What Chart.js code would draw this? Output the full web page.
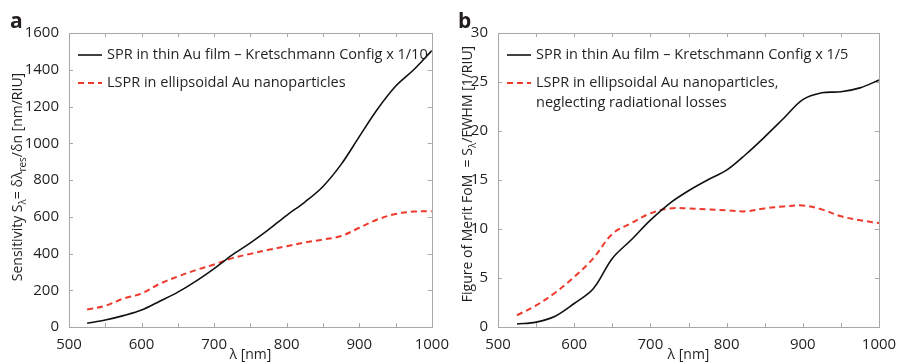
<!DOCTYPE html>
<html>
<head>
<meta charset="utf-8">
<script src="https://cdn.jsdelivr.net/npm/chart.js@4.4.0/dist/chart.umd.min.js"></script>
<style>
  body { margin: 0; background: #fff; width: 898px; height: 363px; overflow: hidden; position: relative; }
  .panel { position: absolute; top: 0; height: 363px; }
  #pa { left: 0; width: 450px; }
  #pb { left: 450px; width: 448px; }
</style>
</head>
<body>
<div class="panel" id="pa"><canvas id="chartA"></canvas></div>
<div class="panel" id="pb"><canvas id="chartB"></canvas></div>
<script>
// wavelength grid [nm], shared by both panels
const wavelengths = [525, 550, 575, 600, 625, 650, 675, 700, 725, 750, 775, 800, 825, 850, 875, 900, 925, 950, 975, 1000];

// panel a: sensitivity [nm/RIU]
const sprSensitivity  = [20, 38, 62, 92, 140, 190, 250, 318, 392, 458, 530, 608, 680, 765, 885, 1036, 1185, 1310, 1400, 1504];
const lsprSensitivity = [95, 115, 155, 182, 235, 275, 310, 340, 375, 398, 420, 440, 460, 476, 495, 540, 585, 615, 628, 630];

// panel b: figure of merit [1/RIU]
const sprFom  = [0.3, 0.5, 1.1, 2.4, 3.9, 7.0, 8.9, 10.9, 12.6, 13.9, 15.0, 16.0, 17.6, 19.4, 21.3, 23.2, 23.9, 24.0, 24.4, 25.2];
const lsprFom = [1.2, 2.2, 3.5, 5.1, 7.0, 9.5, 10.6, 11.6, 12.1, 12.1, 12.0, 11.9, 11.8, 12.1, 12.3, 12.4, 12.0, 11.3, 10.9, 10.6];

const xTicks = [500, 600, 700, 800, 900, 1000];
const yTicksA = [0, 200, 400, 600, 800, 1000, 1200, 1400, 1600];
const yTicksB = [0, 5, 10, 15, 20, 25, 30];

const FONT = '"Open Sans", "DejaVu Sans", sans-serif';
const TEXT = '#231f20';
const FRAME = '#a8a8a8';

// frame, inward ticks, rotated y title with subscripts, legend, panel letter
function decorPlugin(opt) {
  return {
    id: 'decor',
    afterDatasetsDraw(chart) {
      const ctx = chart.ctx;
      const a = chart.chartArea;
      const xs = chart.scales.x, ys = chart.scales.y;
      ctx.save();
      ctx.strokeStyle = FRAME;
      ctx.lineWidth = 1;
      ctx.strokeRect(Math.round(a.left) + 0.5, Math.round(a.top) + 0.5, Math.round(a.right - a.left), Math.round(a.bottom - a.top));
      ctx.beginPath();
      for (let v = 500; v <= 1000; v += 50) {
        const px = Math.round(xs.getPixelForValue(v)) + 0.5;
        ctx.moveTo(px, a.bottom); ctx.lineTo(px, a.bottom - 4);
        ctx.moveTo(px, a.top); ctx.lineTo(px, a.top + 4);
      }
      opt.yTicks.forEach(v => {
        const py = Math.round(ys.getPixelForValue(v)) + 0.5;
        ctx.moveTo(a.left, py); ctx.lineTo(a.left + 4, py);
        ctx.moveTo(a.right, py); ctx.lineTo(a.right - 4, py);
      });
      ctx.stroke();

      // y title
      ctx.fillStyle = TEXT;
      ctx.textBaseline = 'middle';
      const main = '14px ' + FONT, sub = '10px ' + FONT;
      let total = 0;
      opt.yTitle.forEach(s => { ctx.font = s.sub ? sub : main; total += ctx.measureText(s.t).width; });
      ctx.translate(opt.titleX, opt.titleY);
      ctx.rotate(-Math.PI / 2);
      let cx = -total / 2;
      opt.yTitle.forEach(s => {
        ctx.font = s.sub ? sub : main;
        ctx.fillText(s.t, cx, s.sub ? 5 : 0);
        cx += ctx.measureText(s.t).width;
      });
      ctx.setTransform(1, 0, 0, 1, 0, 0);

      // legend
      ctx.font = '14.5px ' + FONT;
      ctx.textAlign = 'left';
      opt.legend.forEach(item => {
        ctx.strokeStyle = item.color;
        ctx.lineWidth = item.width;
        ctx.setLineDash(item.dash);
        ctx.beginPath();
        ctx.moveTo(opt.legX, item.y);
        ctx.lineTo(opt.legX + 24, item.y);
        ctx.stroke();
        ctx.setLineDash([]);
        item.lines.forEach((t, i) => ctx.fillText(t, opt.legX + 29, item.y + i * 20));
      });

      // panel letter
      ctx.font = 'bold 21px ' + FONT;
      ctx.fillText(opt.letter, opt.letterX, 22);
      ctx.restore();
    }
  };
}

function makeChart(id, spr, lspr, opt) {
  new Chart(document.getElementById(id), {
    type: 'line',
    data: {
      datasets: [
        { label: 'SPR', data: spr, borderColor: '#111', borderWidth: 1.6, pointRadius: 0, tension: 0.35 },
        { label: 'LSPR', data: lspr, borderColor: '#ee3a2c', borderWidth: 2, borderDash: [6, 4], pointRadius: 0, tension: 0.35 }
      ].map(d => Object.assign(d, { data: d.data.map((v, i) => ({ x: wavelengths[i], y: v })) }))
    },
    options: {
      responsive: false,
      animation: false,
      layout: { padding: { top: 33, right: opt.padRight, left: 0, bottom: 0 } },
      plugins: { legend: { display: false }, tooltip: { enabled: false } },
      scales: {
        x: {
          type: 'linear', min: 500, max: 1000,
          afterBuildTicks: s => { s.ticks = xTicks.map(v => ({ value: v })); },
          afterFit: s => { s.height = 36; },
          ticks: { color: TEXT, font: { family: FONT, size: 15 }, padding: 1, maxRotation: 0, autoSkip: false, callback: v => String(v) },
          grid: { display: false }, border: { display: false },
          title: { display: true, text: 'λ [nm]', color: TEXT, font: { family: FONT, size: 14 }, padding: 0 }
        },
        y: {
          min: 0, max: opt.yMax,
          afterBuildTicks: s => { s.ticks = opt.yTicks.map(v => ({ value: v })); },
          afterFit: s => { s.width = opt.yWidth; },
          ticks: { color: TEXT, font: { family: FONT, size: 15 }, padding: 2, callback: v => String(v) },
          grid: { display: false }, border: { display: false }
        }
      }
    },
    plugins: [decorPlugin(opt)]
  });
}

const cA = document.getElementById('chartA'); cA.width = 450; cA.height = 363;
const cB = document.getElementById('chartB'); cB.width = 448; cB.height = 363;

makeChart('chartA', sprSensitivity, lsprSensitivity, {
  yMax: 1600, yTicks: yTicksA, yWidth: 69, padRight: 13,
  titleX: 18, titleY: 177, letter: 'a', letterX: 10, legX: 78,
  yTitle: [{ t: 'Sensitivity S' }, { t: 'λ', sub: true }, { t: '= δλ' }, { t: 'res', sub: true }, { t: '/δn [nm/RIU]' }],
  legend: [
    { color: '#111', width: 1.6, dash: [], y: 55, lines: ['SPR in thin Au film – Kretschmann Config x 1/10'] },
    { color: '#ee3a2c', width: 2, dash: [6, 4], y: 83, lines: ['LSPR in ellipsoidal Au nanoparticles'] }
  ]
});

makeChart('chartB', sprFom, lsprFom, {
  yMax: 30, yTicks: yTicksB, yWidth: 48, padRight: 19,
  titleX: 18, titleY: 174, letter: 'b', letterX: 8, legX: 57,
  yTitle: [{ t: 'Figure of Merit FoM  = S' }, { t: 'λ', sub: true }, { t: '/FWHM [1/RIU]' }],
  legend: [
    { color: '#111', width: 1.6, dash: [], y: 55, lines: ['SPR in thin Au film – Kretschmann Config x 1/5'] },
    { color: '#ee3a2c', width: 2, dash: [6, 4], y: 83, lines: ['LSPR in ellipsoidal Au nanoparticles,', 'neglecting radiational losses'] }
  ]
});
</script>
</body>
</html>
